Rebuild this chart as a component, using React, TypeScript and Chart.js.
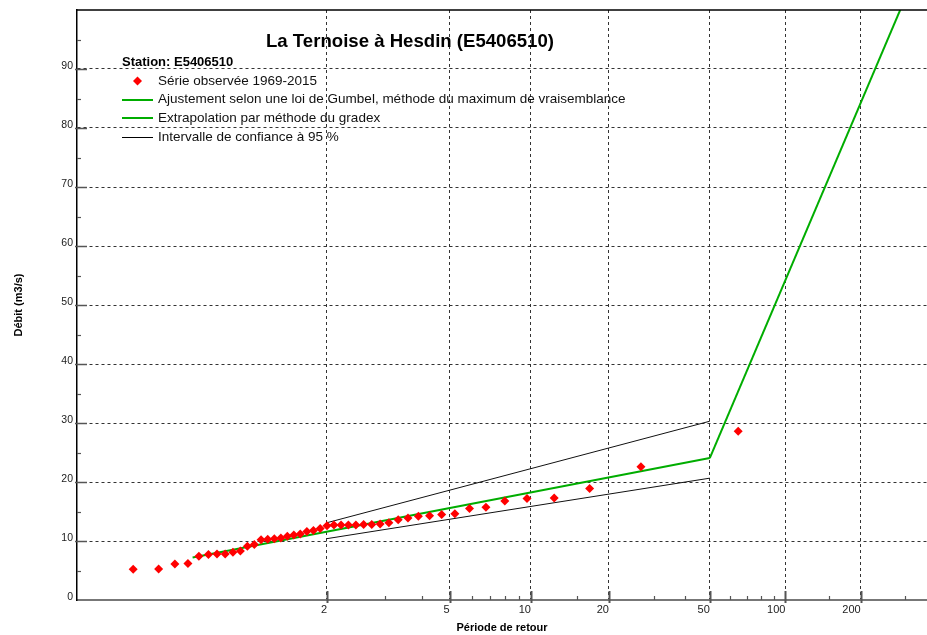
import { useEffect, useRef } from 'react';
import { Chart, registerables } from 'chart.js';

Chart.register(...registerables);

// Observed annual maxima (sorted) and their plotted return periods (years)
const returnPeriods = [
  1.016, 1.039, 1.063, 1.089, 1.116, 1.144, 1.173, 1.204, 1.237, 1.272,
  1.308, 1.347, 1.388, 1.432, 1.479, 1.529, 1.582, 1.639, 1.7, 1.767,
  1.838, 1.916, 2.0, 2.092, 2.193, 2.305, 2.428, 2.565, 2.719, 2.892,
  3.088, 3.314, 3.575, 3.88, 4.243, 4.68, 5.218, 5.896, 6.776, 7.965,
  9.66, 12.27, 16.82, 26.71, 64.86,
];
const observedFlows = [
  5.2, 5.25, 6.1, 6.2, 7.4, 7.7, 7.8, 7.8, 8.1, 8.3,
  9.1, 9.4, 10.2, 10.3, 10.4, 10.5, 10.8, 11.0, 11.2, 11.6,
  11.8, 12.1, 12.6, 12.7, 12.7, 12.7, 12.7, 12.8, 12.8, 12.9,
  13.1, 13.6, 13.9, 14.2, 14.3, 14.5, 14.6, 15.5, 15.7, 16.8,
  17.2, 17.3, 18.9, 22.6, 28.6,
];

// Gumbel fit (maximum likelihood)
const fitPeriods = [1.1, 50];
const fitFlows = [7.2, 24.05];
// Gradex extrapolation
const gradexPeriods = [50, 300];
const gradexFlows = [24.05, 101.8];
// 95% confidence interval
const ciPeriods = [2, 50];
const ciUpper = [13.1, 30.3];
const ciLower = [10.4, 20.65];

// Axis ticks
const xTickPeriods = [2, 3, 4, 5, 6, 7, 8, 9, 10, 15, 20, 30, 40, 50, 60, 70, 80, 90, 100, 150, 200, 300];
const xLabelPeriods = [2, 5, 10, 20, 50, 100, 200];
const yTickValues = [0, 5, 10, 15, 20, 25, 30, 35, 40, 45, 50, 55, 60, 65, 70, 75, 80, 85, 90, 95, 100];
const yLabelValues = [0, 10, 20, 30, 40, 50, 60, 70, 80, 90];

const X_MIN_U = -1.9425;
const X_MAX_U = 5.9082;

const gumbelU = (T: number) => -Math.log(-Math.log(1 - 1 / T));
const toPoints = (ts: number[], qs: number[]) => ts.map((t, i) => ({ x: gumbelU(t), y: qs[i] }));

const FONT = '"Liberation Sans", Arial, Helvetica, sans-serif';
const GREEN = '#00ad00';
const RED = '#ff0000';

const decorPlugin = {
  id: 'decor',
  afterDraw(chart: any) {
    const { ctx, chartArea: a, scales } = chart;
    const xs = scales.x;
    const ys = scales.y;
    ctx.save();
    // top frame line
    ctx.strokeStyle = '#000';
    ctx.lineWidth = 1.5;
    ctx.beginPath();
    ctx.moveTo(a.left, a.top);
    ctx.lineTo(a.right, a.top);
    ctx.stroke();

    // x tick marks
    ctx.strokeStyle = '#555';
    xTickPeriods.forEach((T) => {
      const px = Math.round(xs.getPixelForValue(gumbelU(T))) + 0.5;
      const major = xLabelPeriods.includes(T);
      ctx.lineWidth = major ? 2 : 1.2;
      ctx.beginPath();
      ctx.moveTo(px, a.bottom + (major ? 3 : 0));
      ctx.lineTo(px, a.bottom - (major ? 9 : 4));
      ctx.stroke();
    });
    // y tick marks
    yTickValues.forEach((v) => {
      if (v === 0 || v === 100) return;
      const py = Math.round(ys.getPixelForValue(v)) + 0.5;
      const major = yLabelValues.includes(v);
      ctx.lineWidth = major ? 1.5 : 1.2;
      ctx.beginPath();
      ctx.moveTo(a.left - (major ? 2 : 0), py);
      ctx.lineTo(a.left + (major ? 10 : 4), py);
      ctx.stroke();
    });

    // title
    ctx.fillStyle = '#000';
    ctx.textBaseline = 'middle';
    ctx.textAlign = 'center';
    ctx.font = `bold 18.6px ${FONT}`;
    ctx.fillText('La Ternoise à Hesdin (E5406510)', 410, 42);

    // legend
    ctx.textAlign = 'left';
    ctx.font = `bold 13px ${FONT}`;
    ctx.fillText('Station: E5406510', 122, 62);

    ctx.font = `13.5px ${FONT}`;
    const rows = [
      { y: 81, text: 'Série observée 1969-2015', kind: 'point' },
      { y: 99.5, text: 'Ajustement selon une loi de Gumbel, méthode du maximum de vraisemblance', kind: 'green' },
      { y: 118, text: 'Extrapolation par méthode du gradex', kind: 'green' },
      { y: 137, text: 'Intervalle de confiance à 95 %', kind: 'black' },
    ];
    rows.forEach((r) => {
      if (r.kind === 'point') {
        ctx.fillStyle = RED;
        ctx.beginPath();
        ctx.moveTo(137.5 - 4.5, r.y);
        ctx.lineTo(137.5, r.y - 4.5);
        ctx.lineTo(137.5 + 4.5, r.y);
        ctx.lineTo(137.5, r.y + 4.5);
        ctx.closePath();
        ctx.fill();
      } else {
        ctx.strokeStyle = r.kind === 'green' ? GREEN : '#000';
        ctx.lineWidth = r.kind === 'green' ? 2 : 1;
        ctx.beginPath();
        ctx.moveTo(122, Math.round(r.y) + (r.kind === 'green' ? 0 : 0.5));
        ctx.lineTo(153, Math.round(r.y) + (r.kind === 'green' ? 0 : 0.5));
        ctx.stroke();
      }
      ctx.fillStyle = '#111';
      ctx.fillText(r.text, 158, r.y);
    });
    ctx.restore();
  },
};

export default function App() {
  const canvasRef = useRef<HTMLCanvasElement | null>(null);

  useEffect(() => {
    if (!canvasRef.current) return;
    Chart.defaults.font.family = FONT;
    const chart = new Chart(canvasRef.current, {
      type: 'scatter',
      data: {
        datasets: [
          {
            label: 'Ajustement selon une loi de Gumbel, méthode du maximum de vraisemblance',
            data: toPoints(fitPeriods, fitFlows),
            showLine: true,
            borderColor: GREEN,
            borderWidth: 2,
            pointRadius: 0,
            order: 2,
          },
          {
            label: 'Extrapolation par méthode du gradex',
            data: toPoints(gradexPeriods, gradexFlows),
            showLine: true,
            borderColor: GREEN,
            borderWidth: 2,
            pointRadius: 0,
            order: 2,
          },
          {
            label: 'Intervalle de confiance à 95 % (sup.)',
            data: toPoints(ciPeriods, ciUpper),
            showLine: true,
            borderColor: '#111',
            borderWidth: 1,
            pointRadius: 0,
            order: 3,
          },
          {
            label: 'Intervalle de confiance à 95 % (inf.)',
            data: toPoints(ciPeriods, ciLower),
            showLine: true,
            borderColor: '#111',
            borderWidth: 1,
            pointRadius: 0,
            order: 3,
          },
          {
            label: 'Série observée 1969-2015',
            data: toPoints(returnPeriods, observedFlows),
            showLine: false,
            pointStyle: 'rectRot',
            pointRadius: 4.5,
            pointBorderWidth: 0,
            backgroundColor: RED,
            borderColor: RED,
            order: 1,
          },
        ],
      },
      options: {
        responsive: false,
        animation: false,
        devicePixelRatio: 1,
        layout: { autoPadding: false, padding: { top: 10, right: 0, left: 0, bottom: 0 } },
        plugins: {
          legend: { display: false },
          title: { display: false },
          tooltip: { enabled: false },
        },
        scales: {
          x: {
            type: 'linear',
            min: X_MIN_U,
            max: X_MAX_U,
            afterBuildTicks: (s: any) => {
              s.ticks = xTickPeriods.map((T) => ({ value: gumbelU(T) }));
            },
            afterFit: (s: any) => {
              s.height = 35;
              s.paddingLeft = 0;
              s.paddingRight = 0;
            },
            ticks: {
              autoSkip: false,
              maxRotation: 0,
              minRotation: 0,
              align: 'end',
              padding: 3,
              color: '#222',
              font: { size: 11 },
              callback: (_v: any, i: number) => {
                const T = xTickPeriods[i];
                return xLabelPeriods.includes(T) ? String(T) : '';
              },
            },
            grid: {
              drawTicks: false,
              lineWidth: 1,
              color: (c: any) =>
                xLabelPeriods.includes(xTickPeriods[c.index]) ? '#333' : 'rgba(0,0,0,0)',
            },
            border: { display: true, color: '#777', width: 2, dash: [3, 3] },
            title: {
              display: true,
              text: 'Période de retour',
              color: '#000',
              font: { size: 11, weight: 'bold' },
              padding: { top: 0, bottom: 0 },
            },
          },
          y: {
            type: 'linear',
            min: 0,
            max: 100,
            afterBuildTicks: (s: any) => {
              s.ticks = yTickValues.map((v) => ({ value: v }));
            },
            afterFit: (s: any) => {
              s.width = 77;
              s.paddingTop = 0;
              s.paddingBottom = 0;
            },
            ticks: {
              autoSkip: false,
              padding: 4,
              labelOffset: -3,
              color: '#222',
              font: { size: 10.5 },
              callback: (v: any) => (yLabelValues.includes(Number(v)) ? String(v) : ''),
            },
            grid: {
              drawTicks: false,
              lineWidth: 1,
              color: (c: any) => {
                const v = c.tick ? c.tick.value : -1;
                return v > 0 && v < 100 && v % 10 === 0 ? '#333' : 'rgba(0,0,0,0)';
              },
            },
            border: { display: true, color: '#000', width: 1.5, dash: [3, 3] },
            title: {
              display: true,
              text: 'Débit (m3/s)',
              color: '#000',
              font: { size: 11, weight: 'bold' },
              padding: { top: 12, bottom: 0 },
            },
          },
        },
      } as any,
      plugins: [decorPlugin],
    });
    return () => chart.destroy();
  }, []);

  return (
    <div style={{ position: 'fixed', left: 0, top: 0, width: 927, height: 635, background: '#fff' }}>
      <canvas ref={canvasRef} width={927} height={635} style={{ display: 'block' }} />
    </div>
  );
}
